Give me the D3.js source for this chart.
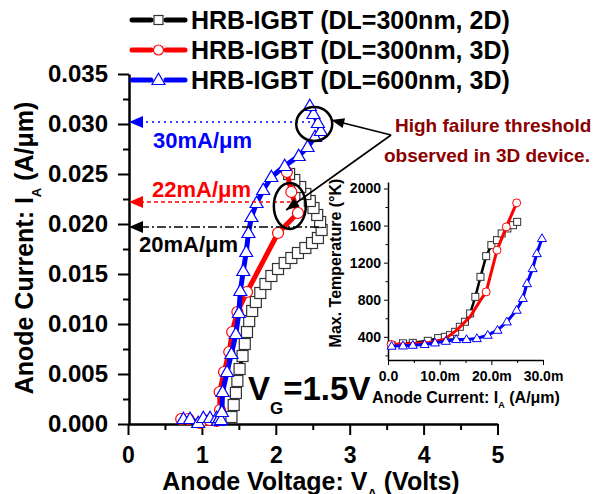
<!DOCTYPE html>
<html>
<head>
<meta charset="utf-8">
<script src="https://cdn.jsdelivr.net/npm/d3@7"></script>
<style>
  body { margin: 0; background: #fff; }
  svg text { font-family: "Liberation Sans", Arial, sans-serif; font-weight: bold; }
</style>
</head>
<body>
<svg id="chart" width="593" height="494"></svg>
<script>
// ---- data ----
// main plot: anode voltage (V) vs anode current (A/um)
var hrb300_2D = [
  [1.40, 0.0007], [1.43, 0.0019], [1.46, 0.0031], [1.48, 0.0043], [1.51, 0.0055],
  [1.55, 0.0068], [1.58, 0.0080], [1.61, 0.0092], [1.64, 0.0103], [1.68, 0.0113],
  [1.73, 0.0122], [1.79, 0.0131], [1.86, 0.0140], [1.94, 0.0148], [2.03, 0.0155],
  [2.12, 0.0161], [2.21, 0.0166], [2.30, 0.0171], [2.40, 0.0176], [2.49, 0.0181],
  [2.57, 0.0186], [2.62, 0.0194], [2.60, 0.0202], [2.56, 0.0209], [2.51, 0.0216],
  [2.46, 0.0223], [2.40, 0.0230], [2.33, 0.0237], [2.25, 0.0244], [2.18, 0.0250]
];
var hrb300_3D = [
  [0.72, 0.0005], [0.82, 0.0005], [0.98, 0.0001], [1.10, 0.0004], [1.20, 0.0003],
  [1.245, 0.0014], [1.24, 0.0032], [1.30, 0.0052], [1.37, 0.0072], [1.41, 0.0092],
  [1.48, 0.0112], [1.61, 0.0132], [2.03, 0.0191], [2.30, 0.0211], [2.21, 0.0232],
  [2.15, 0.0252]
];
var hrb600_3D = [
  [0.75, 0.0005], [0.84, 0.0005], [0.95, 0.0001], [1.02, 0.0006], [1.11, 0.0006],
  [1.20, 0.0006], [1.22, 0.0003], [1.24, 0.0006], [1.26, 0.0004], [1.27, 0.0012],
  [1.28, 0.0032], [1.34, 0.0052], [1.40, 0.0070], [1.46, 0.0090], [1.50, 0.0111],
  [1.52, 0.0133], [1.56, 0.0153], [1.60, 0.0172], [1.63, 0.0191], [1.67, 0.0207],
  [1.74, 0.0221], [1.83, 0.0234], [1.94, 0.0247], [2.12, 0.0258], [2.31, 0.0268],
  [2.43, 0.0277], [2.53, 0.0287], [2.61, 0.0293], [2.57, 0.0301], [2.51, 0.0310],
  [2.46, 0.0318]
];

// inset: anode current (A/um) vs max temperature (K)
var inset300_2D = [
  [0.0007, 311], [0.0029, 330], [0.0048, 335], [0.0077, 357], [0.0097, 386],
  [0.0110, 400], [0.0120, 418], [0.0130, 454], [0.0139, 508], [0.0149, 562],
  [0.0159, 652], [0.0169, 831], [0.0179, 1047], [0.0190, 1270], [0.0200, 1389],
  [0.0211, 1443], [0.0220, 1515], [0.0231, 1569], [0.0242, 1604], [0.0250, 1640]
];
var inset300_3D = [
  [0.0006, 318], [0.0040, 325], [0.0080, 340], [0.0110, 375], [0.0133, 472],
  [0.0159, 616], [0.0179, 796], [0.0190, 885], [0.0211, 1335], [0.0229, 1586],
  [0.0249, 1845]
];
var inset300_3D_marks = [0, 7, 8, 9, 10];
var inset600_3D = [
  [0.0007, 300], [0.0029, 303], [0.0048, 310], [0.0071, 318], [0.0091, 335],
  [0.0112, 353], [0.0132, 372], [0.0152, 372], [0.0172, 382], [0.0193, 418],
  [0.0212, 472], [0.0230, 562], [0.0249, 688], [0.0261, 814], [0.0269, 975],
  [0.0280, 1137], [0.0288, 1299], [0.0298, 1461]
];

var xTicks = [0, 1, 2, 3, 4, 5];
var xMinor = [0.5, 1.5, 2.5, 3.5, 4.5];
var yTicks = [0, 0.005, 0.010, 0.015, 0.020, 0.025, 0.030, 0.035];
var yMinor = [0.0025, 0.0075, 0.0125, 0.0175, 0.0225, 0.0275, 0.0325];
var insetXTicks = [0, 0.010, 0.020, 0.030];
var insetXLabels = ["0.0", "10.0m", "20.0m", "30.0m"];
var insetXMinor = [0.005, 0.015, 0.025];
var insetYTicks = [400, 800, 1200, 1600, 2000];
var insetYMinor = [200, 600, 1000, 1400, 1800];

var legendNames = ["HRB-IGBT (DL=300nm, 2D)", "HRB-IGBT (DL=300nm, 3D)", "HRB-IGBT (DL=600nm, 3D)"];
// failure levels marked with arrows (A/um)
var failLevels = [0.0302, 0.0222, 0.0197];
var failLabels = ["30mA/\u03bcm", "22mA/\u03bcm", "20mA/\u03bcm"];

var svg = d3.select("#chart");
var FONT = '"Liberation Sans", Arial, sans-serif';

// ---- main scales ----
var x = d3.scaleLinear().domain([0, 5]).range([128, 497.5]);
var y = d3.scaleLinear().domain([0, 0.035]).range([424, 74]);

function styleAxis(g, size) {
    g.attr("font-family", FONT).attr("font-size", size);
    g.selectAll("text").attr("fill", "#000").attr("font-weight", "bold");
    g.selectAll("line").attr("stroke", "#000");
}

// main axes
var gx = svg.append("g").attr("transform", "translate(0,424)")
    .call(d3.axisBottom(x).tickValues(xTicks).tickSize(11).tickSizeOuter(0).tickPadding(12).tickFormat(d3.format("d")));
styleAxis(gx, 23);
gx.select(".domain").attr("stroke-width", 2.5);
gx.selectAll(".tick line").attr("stroke-width", 2);
var gxm = svg.append("g").attr("transform", "translate(0,424)")
    .call(d3.axisBottom(x).tickValues(xMinor).tickSize(6).tickFormat(""));
gxm.select(".domain").remove();
gxm.selectAll("line").attr("stroke", "#000").attr("stroke-width", 2);

var gy = svg.append("g").attr("transform", "translate(129,0)")
    .call(d3.axisLeft(y).tickValues(yTicks).tickSize(11).tickSizeOuter(0).tickPadding(10).tickFormat(d3.format(".3f")));
styleAxis(gy, 24);
gy.select(".domain").attr("stroke-width", 2.5);
gy.selectAll(".tick line").attr("stroke-width", 2);
var gym = svg.append("g").attr("transform", "translate(129,0)")
    .call(d3.axisLeft(y).tickValues(yMinor).tickSize(6).tickFormat(""));
gym.select(".domain").remove();
gym.selectAll("line").attr("stroke", "#000").attr("stroke-width", 2);

// axis titles
var xt = svg.append("text").attr("x", 311).attr("y", 490).attr("text-anchor", "middle").attr("font-size", 25);
xt.append("tspan").text("Anode Voltage: V");
xt.append("tspan").attr("font-size", 13).attr("dy", 8).text("A");
xt.append("tspan").attr("dy", -8).text(" (Volts)");

var yt = svg.append("text").attr("transform", "translate(33,248) rotate(-90)").attr("text-anchor", "middle").attr("font-size", 25);
yt.append("tspan").text("Anode Current: I");
yt.append("tspan").attr("font-size", 13).attr("dy", 8).text("A");
yt.append("tspan").attr("dy", -8).text(" (A/\u03bcm)");

// ---- markers ----
function drawMarker(g, shape, cx, cy, s, color, sw) {
    if (shape === "square") {
        g.append("rect").attr("x", cx - s / 2).attr("y", cy - s / 2).attr("width", s).attr("height", s)
            .attr("fill", "#fff").attr("stroke", color).attr("stroke-width", sw);
    } else if (shape === "circle") {
        g.append("circle").attr("cx", cx).attr("cy", cy).attr("r", s / 2)
            .attr("fill", "#fff").attr("stroke", color).attr("stroke-width", sw);
    } else {
        var h = s * 0.87;
        g.append("path").attr("d", "M" + cx + "," + (cy - h * 0.6) + "L" + (cx + s / 2) + "," + (cy + h * 0.4) + "L" + (cx - s / 2) + "," + (cy + h * 0.4) + "Z")
            .attr("fill", "#fff").attr("stroke", color).attr("stroke-width", sw);
    }
}

function drawSeries(data, xs, ys, opt) {
    var g = svg.append("g");
    var line = d3.line().x(function (d) { return xs(d[0]); }).y(function (d) { return ys(d[1]); });
    g.append("path").datum(data).attr("d", line)
        .attr("fill", "none").attr("stroke", opt.color).attr("stroke-width", opt.lw)
        .attr("stroke-linejoin", "round").attr("stroke-linecap", "round");
    data.forEach(function (d, i) {
        if (opt.marks && opt.marks.indexOf(i) < 0) return;
        drawMarker(g, opt.shape, xs(d[0]), ys(d[1]), opt.size, opt.mcolor || opt.color, opt.msw);
    });
}

drawSeries(hrb300_2D, x, y, { color: "#000", mcolor: "#333", lw: 4, shape: "square", size: 11, msw: 1.2 });
drawSeries(hrb300_3D, x, y, { color: "#ff0000", lw: 5, shape: "circle", size: 11, msw: 1.2 });
drawSeries(hrb600_3D, x, y, { color: "#0000ff", lw: 5, shape: "triangle", size: 13, msw: 1.2 });

// ---- failure level arrows ----
function arrowHead(tx, ty, ang, len, hw, color) {
    var c = Math.cos(ang), s = Math.sin(ang);
    var bx = tx - c * len, by = ty - s * len;
    svg.append("path")
        .attr("d", "M" + tx + "," + ty + "L" + (bx - s * hw) + "," + (by + c * hw) + "L" + (bx + s * hw) + "," + (by - c * hw) + "Z")
        .attr("fill", color);
}
var levelStyles = [
    { color: "#0000ff", dash: "2,4", x1: 2.52, tx: 153, ty: 148 },
    { color: "#ff0000", dash: "4,3", x1: 2.20, tx: 152, ty: 197 },
    { color: "#000", dash: "9,3,2,3", x1: 2.63, tx: 139, ty: 252 }
];
failLevels.forEach(function (v, i) {
    var st = levelStyles[i];
    svg.append("line").attr("x1", x(0) + 12).attr("x2", x(st.x1)).attr("y1", y(v)).attr("y2", y(v))
        .attr("stroke", st.color).attr("stroke-width", 1.6).attr("stroke-dasharray", st.dash);
    arrowHead(x(0) + 1, y(v), Math.PI, 14, 6, st.color);
    svg.append("text").attr("x", st.tx).attr("y", st.ty).attr("font-size", 22).attr("fill", st.color).text(failLabels[i]);
});

// circles around failure points
svg.append("ellipse").attr("cx", x(2.52)).attr("cy", y(0.0300)).attr("rx", 18).attr("ry", 17)
    .attr("fill", "none").attr("stroke", "#000").attr("stroke-width", 2.5);
svg.append("ellipse").attr("cx", x(2.19)).attr("cy", y(0.0218)).attr("rx", 16).attr("ry", 23)
    .attr("fill", "none").attr("stroke", "#000").attr("stroke-width", 2.5);

// callout lines
var hub = [x(3.56), y(0.0289)];
var tips = [[x(2.75), y(0.0304)], [x(2.14), y(0.0214)]];
tips.forEach(function (t) {
    svg.append("line").attr("x1", hub[0]).attr("y1", hub[1]).attr("x2", t[0]).attr("y2", t[1])
        .attr("stroke", "#000").attr("stroke-width", 1.6);
    arrowHead(t[0], t[1], Math.atan2(t[1] - hub[1], t[0] - hub[0]), 13, 5, "#000");
});
svg.append("text").attr("x", 395).attr("y", 132).attr("font-size", 19).attr("fill", "#8b0000").text("High failure threshold");
svg.append("text").attr("x", 384).attr("y", 162).attr("font-size", 19).attr("fill", "#8b0000").text("observed in 3D device.");

// V_G label
var vg = svg.append("text").attr("x", 248).attr("y", 400).attr("font-size", 33);
vg.append("tspan").text("V");
vg.append("tspan").attr("font-size", 17).attr("dy", 14).text("G");
vg.append("tspan").attr("dy", -14).text("=1.5V");

// ---- legend ----
var legendStyles = [
    { color: "#000", mcolor: "#333", shape: "square", size: 9 },
    { color: "#ff0000", shape: "circle", size: 10 },
    { color: "#0000ff", shape: "triangle", size: 13 }
];
legendNames.forEach(function (name, i) {
    var st = legendStyles[i];
    var ly = 20 + i * 30;
    var lg = svg.append("g");
    [[132, 151], [166, 185]].forEach(function (seg) {
        lg.append("line").attr("x1", seg[0]).attr("x2", seg[1]).attr("y1", ly).attr("y2", ly)
            .attr("stroke", st.color).attr("stroke-width", 5).attr("stroke-linecap", "round");
    });
    drawMarker(lg, st.shape, 158.5, ly, st.size, st.mcolor || st.color, 1.2);
    lg.append("text").attr("x", 191).attr("y", ly + 9).attr("font-size", 25).attr("fill", "#000").text(name);
});

// ---- inset ----
var ix = d3.scaleLinear().domain([0, 0.030]).range([388, 543]);
var iy = d3.scaleLinear().domain([150, 2070]).range([360, 182]);

var igx = svg.append("g").attr("transform", "translate(0,360)")
    .call(d3.axisBottom(ix).tickValues(insetXTicks).tickSize(5).tickSizeOuter(0).tickPadding(6)
        .tickFormat(function (d, i) { return insetXLabels[i]; }));
styleAxis(igx, 14);
igx.select(".domain").attr("stroke-width", 1.5);
var igxm = svg.append("g").attr("transform", "translate(0,360)")
    .call(d3.axisBottom(ix).tickValues(insetXMinor).tickSize(3).tickFormat(""));
igxm.select(".domain").remove();
igxm.selectAll("line").attr("stroke", "#000");

var igy = svg.append("g").attr("transform", "translate(388,0)")
    .call(d3.axisLeft(iy).tickValues(insetYTicks).tickSize(4).tickSizeOuter(0).tickPadding(3).tickFormat(d3.format("d")));
styleAxis(igy, 14);
igy.select(".domain").attr("stroke-width", 1.5);
var igym = svg.append("g").attr("transform", "translate(388,0)")
    .call(d3.axisLeft(iy).tickValues(insetYMinor).tickSize(2.5).tickFormat(""));
igym.select(".domain").remove();
igym.selectAll("line").attr("stroke", "#000");

var ixt = svg.append("text").attr("x", 466).attr("y", 403).attr("text-anchor", "middle").attr("font-size", 16);
ixt.append("tspan").text("Anode Current: I");
ixt.append("tspan").attr("font-size", 9).attr("dy", 5).text("A");
ixt.append("tspan").attr("dy", -5).text(" (A/\u03bcm)");
svg.append("text").attr("transform", "translate(341,263) rotate(-90)").attr("text-anchor", "middle")
    .attr("font-size", 16).text("Max. Temperature (\u00b0K)");

drawSeries(inset300_2D, ix, iy, { color: "#000", mcolor: "#333", lw: 2.5, shape: "square", size: 7, msw: 1 });
drawSeries(inset300_3D, ix, iy, { color: "#ff0000", lw: 3, shape: "circle", size: 8, msw: 1, marks: inset300_3D_marks });
drawSeries(inset600_3D, ix, iy, { color: "#0000ff", lw: 3, shape: "triangle", size: 9, msw: 1 });
</script>
</body>
</html>
